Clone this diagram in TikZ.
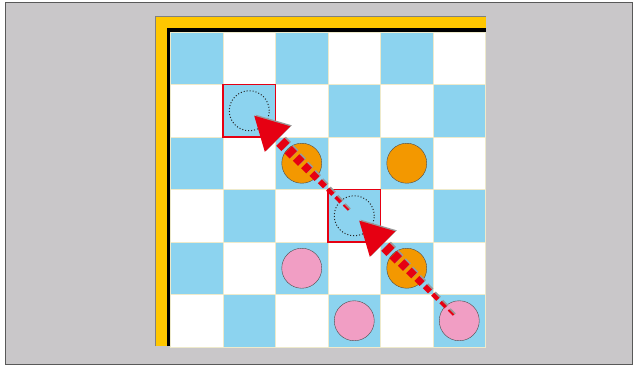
\documentclass[tikz,border=0pt]{standalone}
\usetikzlibrary{
  calc} % for points along the moves
\definecolor{sqblue}{HTML}{8CD3EF}
\definecolor{boardyellow}{HTML}{FFC700}
\definecolor{piecepink}{HTML}{F19EC4}
\definecolor{pieceorange}{HTML}{F39800}
\definecolor{movered}{HTML}{E60012}
\definecolor{framegray}{HTML}{C9C7C9}
\definecolor{gridline}{HTML}{EEEACB}
\colorlet{cell0}{sqblue}
\colorlet{cell1}{white}
\colorlet{shadowgray}{black!40}
\tikzset{
  cell/.style={
    shape=rectangle, minimum size=52.5pt, inner sep=0pt, outer sep=0pt,
    draw=gridline, line width=.6pt, fill=#1},
  piece/.style={
    shape=circle, minimum size=40pt, inner sep=0pt, draw=black!70, fill=#1},
  target/.style={
    shape=rectangle, minimum size=52.5pt, inner sep=0pt, draw=movered,
    line width=1.5pt,
    path picture={
      \draw[dotted, black!85, line width=1pt]
        (path picture bounding box.center) circle (20pt);}}
}

\begin{document}
\begin{tikzpicture}[x=1pt, y=-1pt]

% frame
\fill[white] (0,0) rectangle (636,366);
\draw[fill=framegray, draw=black!65, line width=1pt] (5.5,2.5) rectangle (632.5,364);

% board edge
\fill[boardyellow] (155,16) rectangle (486,346);
\draw[black!50, line width=.8pt] (155,346) -- (155,16) -- (486,16);
\draw[line width=4pt] (168.5,346) -- (168.5,30) -- (486,30);

\foreach \c in {0,...,5} {
  \foreach \r in {0,...,5} {
    \pgfmathtruncatemacro\p{mod(\c+\r,2)}
    \node[cell=cell\p] (cell-\c-\r) at ({196.75+52.5*\c},{58.25+52.5*\r}) {};
  }
}

% pieces
\node[piece=pieceorange] (or-1) at (cell-2-2) {};
\node[piece=pieceorange] (or-2) at (cell-4-2) {};
\node[piece=pieceorange] (or-3) at (cell-4-4) {};
\node[piece=piecepink]   (pk-1) at (cell-2-4) {};
\node[piece=piecepink]   (pk-2) at (cell-3-5) {};
\node[piece=piecepink]   (pk-3) at (cell-5-5) {};

\node[target] (tgt-1) at (cell-1-1) {};
\node[target] (tgt-2) at (cell-3-3) {};

% jumps
\foreach \src/\dst in {pk-3/tgt-2, tgt-2/tgt-1} {
  \coordinate (s) at ($(\src.center)!8pt!(\dst.center)$);
  \coordinate (e) at ($(\dst.center)!7pt!(\src.center)$);
  \coordinate (h) at ($(e)!33pt!(s)$);
  \foreach \ink/\dx/\dy in {shadowgray/1.5/-1, movered/0/0} {
    \begin{scope}[color=\ink, transform canvas={shift={(\dx,\dy)}}]
      \foreach \k in {0,...,8} {
        \pgfmathsetmacro\lw{2+1.2*\k}
        \draw[line width=\lw pt]
          ($(s)!\k/9!(h)$) -- ($(s)!{(\k+.65)/9}!(h)$);
      }
      \fill (e) -- ($(h)!18pt!90:(e)$) -- ($(h)!18pt!-90:(e)$) -- cycle;
    \end{scope}
  }
}
\end{tikzpicture}
\end{document}
